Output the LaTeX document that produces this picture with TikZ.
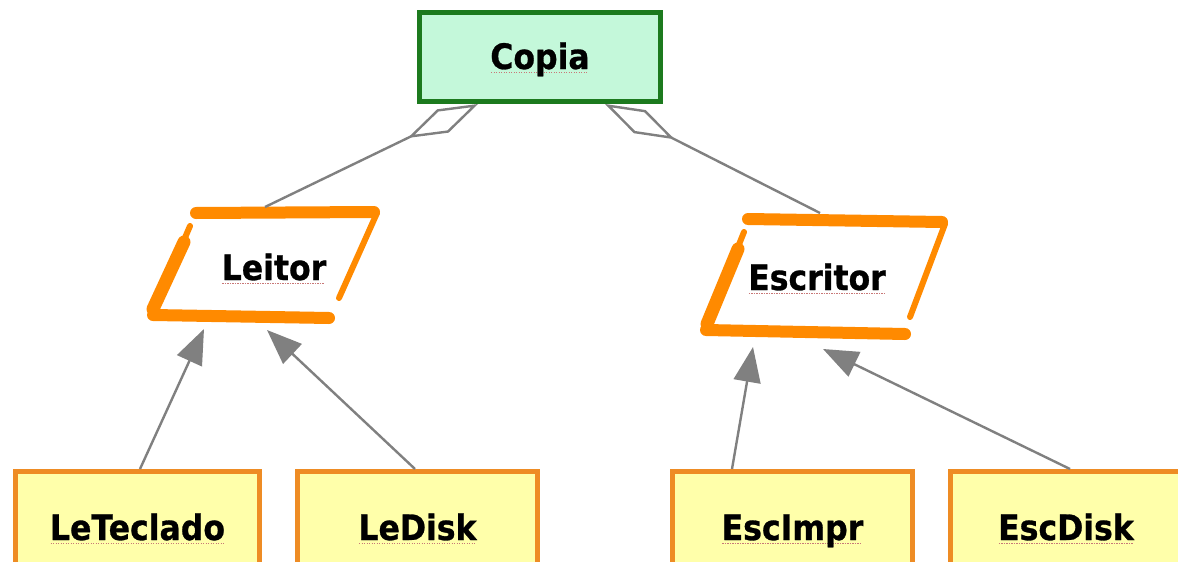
\documentclass[tikz,border=0pt]{standalone}
\usepackage{fontspec}
\setmainfont{DejaVu Sans}[FakeStretch=0.9, BoldFeatures={FakeStretch=0.9, FakeBold=0.8}]
\usetikzlibrary{arrows.meta,calc}

\definecolor{copiafill}{RGB}{196,248,218}
\definecolor{copiaedge}{RGB}{28,122,30}
\definecolor{leaffill}{RGB}{255,255,170}
\definecolor{leafedge}{RGB}{238,140,36}
\definecolor{brushcol}{RGB}{255,138,0}
\definecolor{linkgray}{RGB}{128,128,128}
\definecolor{squigred}{RGB}{200,120,120}

% dotted spelling mark under a word
\newcommand\spellmark[1]{\setbox0=\hbox{#1}\rlap{\raisebox{-4pt}{\color{squigred}\hbox to \wd0{\leaders\hbox to 2.5pt{\hss\rule{1.1pt}{1pt}\hss}\hfill}}}\box0}

\tikzset{
  lbl/.style={font=\fontsize{35}{40}\selectfont\bfseries, text height=26pt, text depth=2pt, inner sep=0pt},
  rootbox/.style={lbl, draw=copiaedge, fill=copiafill, line width=5pt, minimum width=241pt, minimum height=89pt},
  leafbox/.style={lbl, draw=leafedge, fill=leaffill, line width=5pt, minimum height=113pt},
  brush/.style={draw=brushcol, line cap=round, line join=round},
  aggr/.style={draw=linkgray, line width=2.4pt, -{Diamond[open, length=78pt, width=26pt]}},
  inherit/.style={draw=linkgray, line width=2.4pt, -{Triangle[length=35pt, width=27pt]}, color=linkgray}
}

\begin{document}
\begin{tikzpicture}[x=1pt, y=-1pt]
\path[use as bounding box, fill=white] (0,0) rectangle (1178,562);
\clip (0,0) rectangle (1178,562);

% root class
\node[rootbox] (copia) at (540,57) {\spellmark{Copia}};

% abstract classes: hand-drawn parallelograms
\draw[brush, line width=12pt] (196,213) -- (374,212);
\draw[brush, line width=6pt] (377,213) -- (339,298);
\draw[brush, line width=6pt] (190,226) -- (184,240);
\draw[brush, line width=13pt] (184,242) -- (153,309);
\draw[brush, line width=12pt] (153,315) -- (329,318);
\node[lbl] (leitor) at (274,268) {\spellmark{Leitor}};

\draw[brush, line width=12pt] (748,219) -- (942,222);
\draw[brush, line width=6pt] (945,224) -- (910,317);
\draw[brush, line width=6pt] (744,232) -- (738,247);
\draw[brush, line width=13pt] (738,249) -- (707,324);
\draw[brush, line width=12pt] (706,330) -- (905,334);
\node[lbl] (escritor) at (817,278) {\spellmark{Escritor}};

% attachment points on the parallelograms
\coordinate (leitorTop) at (265,207);
\coordinate (escritorTop) at (820,213);
\coordinate (leitorInA) at (204,329);
\coordinate (leitorInB) at (267,330);
\coordinate (escritorInA) at (753,347);
\coordinate (escritorInB) at (823,349);

% concrete classes
\node[leafbox, minimum width=244pt] (leteclado) at (137.5,528) {\spellmark{LeTeclado}};
\node[leafbox, minimum width=240pt] (ledisk) at (417.5,528) {\spellmark{LeDisk}};
\node[leafbox, minimum width=240pt] (escimpr) at (792.5,528) {\spellmark{EscImpr}};
\node[leafbox, minimum width=231pt] (escdisk) at (1066,528) {\spellmark{EscDisk}};

% aggregation links
\draw[aggr] (leitorTop) -- ($(copia.south)+(-62,0)$);
\draw[aggr] (escritorTop) -- ($(copia.south)+(65,0)$);

% generalisation links
\draw[inherit] ($(leteclado.north)+(2.5,0)$) -- (leitorInA);
\draw[inherit] ($(ledisk.north)+(-2.5,0)$) -- (leitorInB);
\draw[inherit] ($(escimpr.north)+(-60.5,0)$) -- (escritorInA);
\draw[inherit] ($(escdisk.north)+(4,0)$) -- (escritorInB);
\end{tikzpicture}
\end{document}
